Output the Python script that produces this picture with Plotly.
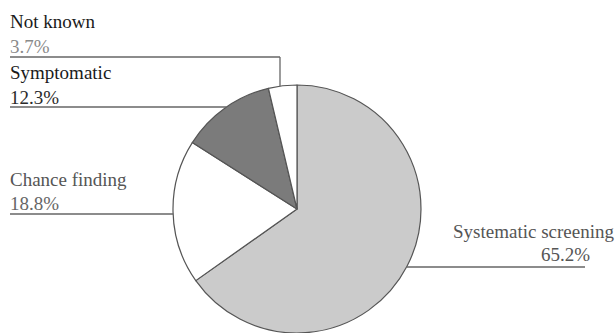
import math
import plotly.graph_objects as go

# ---- data ----
categories = ["Systematic screening", "Chance finding", "Symptomatic", "Not known"]
values = [65.2, 18.8, 12.3, 3.7]
pct_labels = ["65.2%", "18.8%", "12.3%", "3.7%"]
slice_colors = ["#cbcbcb", "#ffffff", "#7b7b7b", "#ffffff"]

W, H = 615, 333
CX, CY, R = 297, 209, 124  # pie centre / radius in pixels (layout)

def px(x):
    return x / W

def py(y):
    return 1 - y / H

fig = go.Figure(go.Pie(
    labels=categories,
    values=values,
    sort=False,
    direction="clockwise",
    rotation=0,
    textinfo="none",
    hoverinfo="label+percent",
    marker=dict(colors=slice_colors, line=dict(color="#555555", width=1.2)),
    domain=dict(x=[px(CX - R), px(CX + R)], y=[py(CY + R), py(CY - R)]),
    showlegend=False,
))

FONT = "Liberation Serif"
FS = 19

def note(text, x, y, color, anchor="left"):
    fig.add_annotation(text=text, x=px(x), y=py(y), xref="paper", yref="paper",
                       xanchor=anchor, yanchor="middle", showarrow=False,
                       font=dict(family=FONT, size=FS, color=color))

def line(x0, y0, x1, y1):
    fig.add_shape(type="line", xref="paper", yref="paper",
                  x0=px(x0), y0=py(y0), x1=px(x1), y1=py(y1),
                  line=dict(color="#666666", width=1.3))

def edge_x(y, side):
    dy = y - CY
    return CX + side * math.sqrt(R * R - dy * dy)

# Not known
note(categories[3], 8, 21, "#1a1a1a")
note(pct_labels[3], 8, 46, "#8a8a8a")
line(10, 57, 280, 57)
line(280, 57, 280, CY - math.sqrt(R * R - (CX - 280) ** 2))

# Symptomatic
note(categories[2], 8, 72, "#1a1a1a")
note(pct_labels[2], 8, 97, "#2a2a2a")
line(10, 107, edge_x(107, -1), 107)

# Chance finding
note(categories[1], 8, 179, "#555555")
note(pct_labels[1], 8, 203, "#666666")
line(10, 214, edge_x(214, -1), 214)

# Systematic screening
note(categories[0], 616, 231, "#555555", anchor="right")
note(pct_labels[0], 592, 255, "#555555", anchor="right")
line(edge_x(267, 1), 267, 585, 267)

fig.update_layout(width=W, height=H, margin=dict(l=0, r=0, t=0, b=0),
                  paper_bgcolor="white", plot_bgcolor="white")

fig.write_html("out.html")
